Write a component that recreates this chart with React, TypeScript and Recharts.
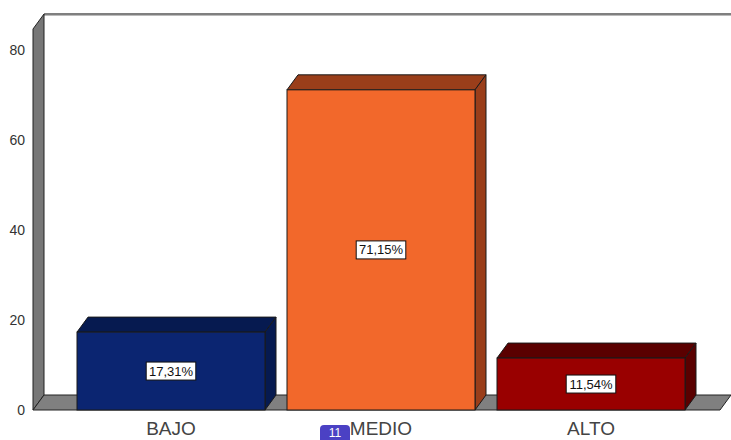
import { BarChart, Bar, XAxis, YAxis, ReferenceArea, LabelList } from 'recharts';

const categories = ['BAJO', 'MEDIO', 'ALTO'];
const percentages = [17.31, 71.15, 11.54];
const yTicks = [0, 20, 40, 60, 80];

const FRONT = ['#0b2571', '#f2682b', '#990000'];
const SHADE = ['#061a50', '#9a3e1a', '#5a0000'];
const DX = 11;
const DY = -15;
const PAD_L = 33;
const PAD_R = 24;

const data = categories.map((name, i) => ({ name, value: percentages[i] }));

// back wall, left wall and floor of the 3D box (area spans the padded range, so widen it back)
function Walls(props: any) {
  const x = props.x - PAD_L;
  const width = props.width + PAD_L + PAD_R;
  const { y, height } = props;
  const b = y + height;
  return (
    <g>
      <rect x={x + DX} y={y + DY} width={width} height={height} fill="#fff" />
      <line x1={x + DX} y1={y + DY} x2={x + width + DX} y2={y + DY} stroke="#555" strokeWidth={1.5} />
      <line x1={x + DX} y1={y + DY + 1.5} x2={x + width + DX} y2={y + DY + 1.5} stroke="#bbb" strokeWidth={1} />
      <polygon
        points={`${x},${y} ${x + DX},${y + DY} ${x + DX},${b + DY} ${x},${b}`}
        fill="#777"
        stroke="#222"
      />
      <polygon
        points={`${x},${b} ${x + DX},${b + DY} ${x + width + DX},${b + DY} ${x + width},${b}`}
        fill="#808080"
        stroke="#222"
      />
    </g>
  );
}

function Bar3D(props: any) {
  const { x, y, width, height, index } = props;
  const r = x + width;
  const b = y + height;
  return (
    <g stroke="#1a1a1a" strokeWidth={1}>
      <polygon points={`${x},${y} ${x + DX},${y + DY} ${r + DX},${y + DY} ${r},${y}`} fill={SHADE[index]} />
      <polygon points={`${r},${y} ${r + DX},${y + DY} ${r + DX},${b + DY} ${r},${b}`} fill={SHADE[index]} />
      <rect x={x} y={y} width={width} height={height} fill={FRONT[index]} />
    </g>
  );
}

function PctLabel(props: any) {
  const { x, y, width, height, value } = props;
  const txt = value.toFixed(2).replace('.', ',') + '%';
  const w = txt.length * 7.6 + 4;
  const cx = x + width / 2;
  const cy = y + height / 2;
  return (
    <g>
      <rect x={cx - w / 2} y={cy - 9} width={w} height={18} fill="#fff" stroke="#111" strokeWidth={1} />
      <text x={cx} y={cy + 4.5} textAnchor="middle" fontSize={13} fill="#111" fontFamily="Liberation Sans, Arial, sans-serif">
        {txt}
      </text>
    </g>
  );
}

export default function App() {
  return (
    <div style={{ position: 'relative', width: 731, height: 440, background: '#fff', overflow: 'hidden' }}>
      <style>{'body{margin:0}'}</style>
      <BarChart
        width={731}
        height={440}
        data={data}
        margin={{ top: 29, right: 11, bottom: 0, left: 0 }}
        barCategoryGap={11}
      >
        <ReferenceArea y1={0} y2={84.67} shape={Walls} ifOverflow="visible" />
        <XAxis
          dataKey="name"
          axisLine={false}
          tickLine={false}
          height={30}
          tickMargin={6}
          padding={{ left: PAD_L, right: PAD_R }}
          tick={{ fontSize: 19, fill: '#444', fontFamily: 'Liberation Sans, Arial, sans-serif' }}
        />
        <YAxis
          width={33}
          domain={[0, 84.67]}
          ticks={yTicks}
          axisLine={false}
          tickLine={false}
          tickMargin={2}
          tick={{ fontSize: 14, fill: '#333', fontFamily: 'Liberation Sans, Arial, sans-serif' }}
        />
        <Bar dataKey="value" shape={Bar3D} isAnimationActive={false}>
          <LabelList dataKey="value" content={PctLabel} />
        </Bar>
      </BarChart>
      <div
        style={{
          position: 'absolute',
          left: 320,
          top: 425,
          width: 30,
          height: 15,
          borderRadius: '4px 4px 0 0',
          background: '#4b41c4',
          color: '#fff',
          fontSize: 12,
          fontFamily: 'Liberation Sans, Arial, sans-serif',
          textAlign: 'center',
          lineHeight: '17px',
        }}
      >
        11
      </div>
    </div>
  );
}
